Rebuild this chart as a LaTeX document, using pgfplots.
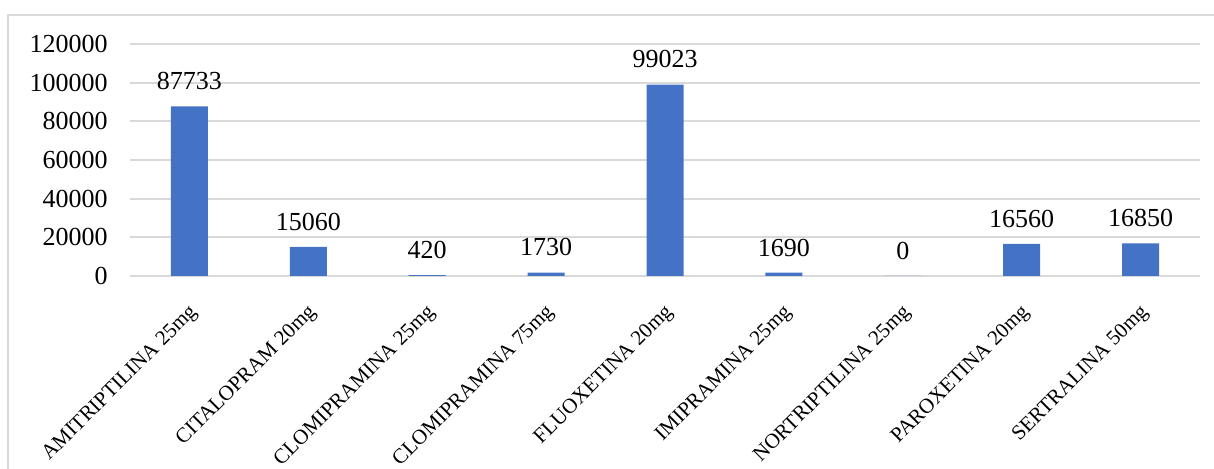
\documentclass[border=0pt]{standalone}
\usepackage{fontspec}
\setmainfont{Liberation Serif}
\usepackage{pgfplots}
\pgfplotsset{compat=1.18}
\definecolor{barblue}{HTML}{4472C4}
\definecolor{gridgray}{HTML}{D9D9D9}
\begin{document}
\begin{tikzpicture}
\useasboundingbox (0,0) rectangle (607pt,234.5pt);
\begin{scope}
\clip (0,0) rectangle (607pt,234.5pt);
\draw[gridgray, line width=1pt] (4pt,-10pt) rectangle (620pt,227pt);
\end{scope}
\begin{axis}[
  at={(65pt,96.5pt)}, anchor=south west,
  scale only axis, width=535pt, height=116pt,
  xmin=-0.5, xmax=8.5, ymin=0, ymax=120000,
  scaled y ticks=false,
  ytick={0,20000,40000,60000,80000,100000,120000},
  yticklabels={0,20000,40000,60000,80000,100000,120000},
  xtick={0,...,8},
  xticklabels={AMITRIPTILINA 25mg,CITALOPRAM 20mg,CLOMIPRAMINA 25mg,CLOMIPRAMINA 75mg,FLUOXETINA 20mg,IMIPRAMINA 25mg,NORTRIPTILINA 25mg,PAROXETINA 20mg,SERTRALINA 50mg},
  xticklabel style={rotate=45, anchor=east, font=\fontsize{10.5}{12}\selectfont, inner sep=0pt, yshift=-13.5pt, xshift=-10pt},
  yticklabel style={font=\fontsize{13}{15}\selectfont, inner sep=0pt, xshift=-11pt},
  major tick length=0pt,
  axis line style={draw=none},
  ymajorgrids, major grid style={gridgray, line width=1pt},
  clip=false,
]
\addplot[ybar, bar width=18.5pt, fill=barblue, draw=none,
  nodes near coords, point meta=explicit symbolic,
  every node near coord/.append style={font=\fontsize{13}{15}\selectfont, anchor=south, inner sep=0pt, yshift=8pt}]
  coordinates {(0,87733)[87733] (1,15060)[15060] (2,420)[420] (3,1730)[1730] (4,99023)[99023] (5,1690)[1690] (6,0)[0] (7,16560)[16560] (8,16850)[16850]};
\end{axis}
\end{tikzpicture}
\end{document}
